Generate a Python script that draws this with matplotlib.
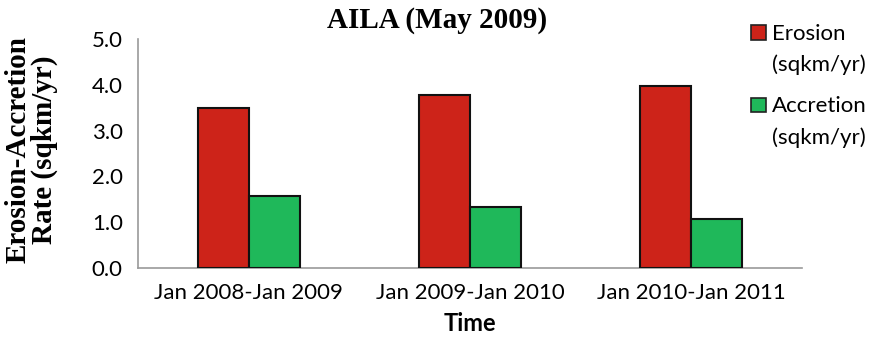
import matplotlib
matplotlib.use("Agg")
import matplotlib.pyplot as plt
from matplotlib.patches import Rectangle
from matplotlib.legend_handler import HandlerPatch
from matplotlib.container import BarContainer
import numpy as np

periods = ["Jan 2008-Jan 2009", "Jan 2009-Jan 2010", "Jan 2010-Jan 2011"]
erosion = [3.49, 3.77, 3.97]
accretion = [1.57, 1.33, 1.07]
yticks = [0.0, 1.0, 2.0, 3.0, 4.0, 5.0]

red = "#CD2319"
green = "#1FB85A"
FS = 16

fig = plt.figure(figsize=(8.78, 3.40), dpi=100)
ax = fig.add_axes([0.1572, 0.2118, 0.7562, 0.6735])

x = np.arange(len(periods))
w = 0.23
ax.bar(x - w / 2, erosion, width=w, color=red, edgecolor="#111111", linewidth=1.5,
       label="Erosion\n(sqkm/yr)", zorder=3)
ax.bar(x + w / 2, accretion, width=w, color=green, edgecolor="#111111", linewidth=1.5,
       label="Accretion\n(sqkm/yr)", zorder=3)

ax.set_xlim(-0.5, len(periods) - 0.5)
ax.set_ylim(0, 5.0)
ax.set_yticks(yticks)
ax.set_yticklabels([f"{v:.1f}" for v in yticks])
ax.set_xticks(x)
ax.set_xticklabels(periods)

for s in ["top", "right"]:
    ax.spines[s].set_visible(False)
for s in ["left", "bottom"]:
    ax.spines[s].set_color("#9a9a9a")
    ax.spines[s].set_linewidth(1.2)

ax.tick_params(axis="both", length=0, labelsize=FS)
ax.tick_params(axis="y", pad=11)
ax.tick_params(axis="x", pad=11)
for lab in ax.get_xticklabels() + ax.get_yticklabels():
    lab.set_fontfamily("Lato")

ax.set_xlabel("Time", fontfamily="Lato", fontweight="bold", fontsize=17, labelpad=6)

fig.text(0.036, 0.559, "Erosion-Accretion\nRate (sqkm/yr)", rotation=90,
         ha="center", va="center", fontfamily="Liberation Serif",
         fontweight="bold", fontsize=21, linespacing=0.95)

fig.text(0.498, 0.94, "AILA (May 2009)", ha="center", va="center",
         fontfamily="Liberation Serif", fontweight="bold", fontsize=21)


def top_square(legend, orig_handle, xdescent, ydescent, width, height, fontsize):
    # square key aligned with the first line of a two-line label
    side = 0.65 * fontsize
    return Rectangle((width - side - xdescent, -ydescent + 0.8 * fontsize),
                     side, side)


def first_bar_style(legend_handle, orig_handle):
    legend_handle.update_from(orig_handle.patches[0])


leg = ax.legend(loc="upper left", bbox_to_anchor=(750 / 878, 1 - 24 / 340),
                bbox_transform=fig.transFigure, frameon=False,
                prop={"family": "Lato", "size": FS}, handlelength=0.7,
                handleheight=0.7, handletextpad=0.3, labelspacing=0.95,
                borderaxespad=0, borderpad=0,
                handler_map={BarContainer: HandlerPatch(patch_func=top_square,
                                                        update_func=first_bar_style)})
for t in leg.get_texts():
    t.set_linespacing(1.65)
for p in leg.get_patches():
    p.set_edgecolor("#222222")
    p.set_linewidth(1.2)

fig.savefig("out.png", dpi=100)
